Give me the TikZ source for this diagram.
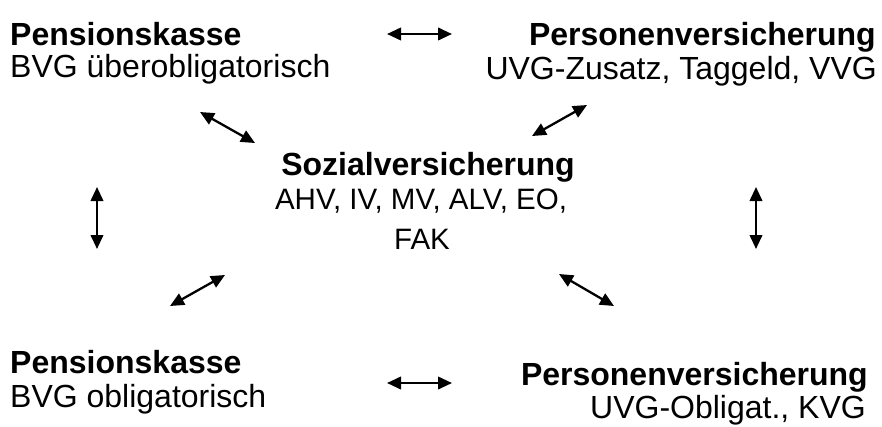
\documentclass[tikz,border=0pt]{standalone}
\usepackage{fontspec}
\setmainfont{Liberation Sans}
\usetikzlibrary{arrows.meta}
\tikzset{
  txt/.style={inner sep=0pt, font=\fontsize{32}{36}\selectfont},
  ctxt/.style={inner sep=0pt, font=\fontsize{29.5}{34}\selectfont},
  hd/.style={txt, font=\fontsize{32}{36}\selectfont\bfseries},
  link/.style={line width=2.3pt, {Triangle[length=14pt,width=12.5pt]}-{Triangle[length=14pt,width=12.5pt]}}
}
\begin{document}
\begin{tikzpicture}[x=1pt,y=-1pt]
\useasboundingbox (0,0) rectangle (882,426);
% top left
\node[hd, anchor=base west] (pkuh) at (10,45) {Pensionskasse};
\node[txt, anchor=base west] (pkut) at (10,77) {BVG überobligatorisch};
% top right
\node[hd, anchor=base east] (pvuh) at (876,45) {Personenversicherung};
\node[txt, anchor=base east] (pvut) at (877,79) {UVG-Zusatz, Taggeld, VVG};
% center
\node[hd, anchor=base] (svh) at (428,175) {Sozialversicherung};
\node[ctxt, anchor=base] (sv1) at (421,209) {AHV, IV, MV, ALV, EO,};
\node[ctxt, anchor=base] (sv2) at (422,249) {FAK};
% bottom left
\node[hd, anchor=base west] (pkoh) at (10,373) {Pensionskasse};
\node[txt, anchor=base west] (pkot) at (10,407) {BVG obligatorisch};
% bottom right
\node[hd, anchor=base east] (pvoh) at (868,385) {Personenversicherung};
\node[txt, anchor=base east] (pvot) at (866,418) {UVG-Obligat., KVG};
% arrow end points
\coordinate (a1) at (387,34);   \coordinate (b1) at (452,34);
\coordinate (a2) at (200,112);  \coordinate (b2) at (255,143);
\coordinate (a3) at (532,136);  \coordinate (b3) at (587,105);
\coordinate (a4) at (97,187);   \coordinate (b4) at (97,249);
\coordinate (a5) at (756,187);  \coordinate (b5) at (756,249);
\coordinate (a6) at (170,306);  \coordinate (b6) at (225,275);
\coordinate (a7) at (559,274);  \coordinate (b7) at (614,306);
\coordinate (a8) at (387,383);  \coordinate (b8) at (452,383);
\foreach \i in {1,...,8} \draw[link] (a\i) -- (b\i);
\end{tikzpicture}
\end{document}
